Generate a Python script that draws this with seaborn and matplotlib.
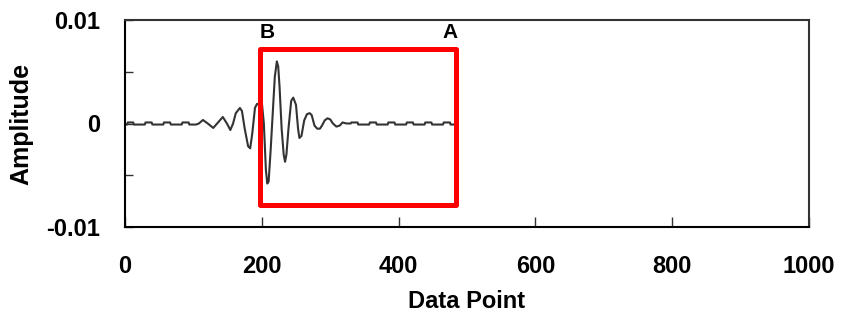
import matplotlib
matplotlib.use("Agg")
import matplotlib.pyplot as plt
from matplotlib.patches import Rectangle
import pandas as pd
import seaborn as sns

# Signal values (data point index, amplitude)
data_point = [0, 3, 4, 12, 13, 29, 30, 39, 40, 56, 57, 66, 67, 83, 84, 93, 94, 104,
              108, 114, 121, 129, 136, 143, 149, 154, 158, 162, 168, 171, 175, 180, 183,
              186, 190, 193, 196, 200, 203, 206, 208, 210, 213, 216, 219, 222, 224, 226,
              229, 232, 234, 236, 239, 243, 246, 250, 253, 255, 258, 262, 266, 270, 273,
              277, 281, 285, 288, 292, 296, 300, 304, 309, 314, 318, 324,
              330, 331, 340, 341, 357, 358, 367, 368, 384, 385, 394, 395, 411, 412,
              421, 422, 438, 439, 448, 449, 465, 466, 475, 476, 482]
amplitude = [-0.0001, -0.0001, 0.0001, 0.0001, -0.0001, -0.0001, 0.0001, 0.0001, -0.0001,
             -0.0001, 0.0001, 0.0001, -0.0001, -0.0001, 0.0001, 0.0001, -0.0001, -0.0001,
             0.0000, 0.00034, 0.0000, -0.00043, 0.0001, 0.00063, 0.0000, -0.00063, 0.0000,
             0.0010, 0.0015, 0.0012, -0.0005, -0.0022, -0.0024, -0.0010, 0.0015, 0.0019,
             0.0018, 0.0021, 0.0000, -0.0045, -0.0058, -0.0056, -0.0025, 0.0010, 0.0045,
             0.0060, 0.0055, 0.0035, -0.0005, -0.0030, -0.0037, -0.0030, -0.0005, 0.0022,
             0.0025, 0.0018, -0.0005, -0.0014, -0.0012, 0.0003, 0.0009, 0.0010, 0.0008,
             -0.0002, -0.0005, -0.0005, -0.0002, 0.0003, 0.0005, 0.0004, 0.0000, -0.0003,
             -0.0002, 0.0001, 0.0000,
             0.0000, 0.0001, 0.0001, -0.0001, -0.0001, 0.0001, 0.0001, -0.0001, -0.0001,
             0.0001, 0.0001, -0.0001, -0.0001, 0.0001, 0.0001, -0.0001, -0.0001, 0.0001,
             0.0001, -0.0001, -0.0001, 0.0001, 0.0001, -0.0001, -0.0001]

x_ticks = [0, 200, 400, 600, 800, 1000]
x_tick_labels = ["0", "200", "400", "600", "800", "1000"]
y_ticks = [-0.01, -0.005, 0, 0.005, 0.01]
y_tick_labels = ["-0.01", "", "0", "", "0.01"]

# Window annotation (B .. A)
window_start = 197
window_end = 484.6
window_low = -0.00783
window_high = 0.00715
label_y = 0.0088
label_b_x = 208
label_a_x = 475

df = pd.DataFrame({"Data Point": data_point, "Amplitude": amplitude})

sns.set_style("white")
plt.rcParams["font.family"] = ["Liberation Sans", "DejaVu Sans"]
plt.rcParams["text.color"] = "black"
plt.rcParams["axes.labelcolor"] = "black"

fig = plt.figure(figsize=(8.43, 3.21), dpi=100)
ax = fig.add_axes([125 / 843, 1 - 227 / 321, (809 - 125) / 843, (227 - 20) / 321])

sns.lineplot(data=df, x="Data Point", y="Amplitude", ax=ax, color="#333333",
             linewidth=1.5, sort=False, estimator=None)

ax.add_patch(Rectangle((window_start, window_low), window_end - window_start,
                       window_high - window_low, fill=False, edgecolor="#ff0000",
                       linewidth=3.6, joinstyle="round", zorder=3))
ax.text(label_b_x, label_y, "B", ha="center", va="center", fontsize=15,
        fontweight="bold", color="black")
ax.text(label_a_x, label_y, "A", ha="center", va="center", fontsize=15,
        fontweight="bold", color="black")

ax.set_xlim(0, 1000)
ax.set_ylim(-0.01, 0.01)
ax.set_xticks(x_ticks)
ax.set_xticklabels(x_tick_labels, fontsize=17, fontweight="bold")
ax.set_yticks(y_ticks)
ax.set_yticklabels(y_tick_labels, fontsize=17, fontweight="bold")
ax.tick_params(axis="x", bottom=True, direction="in", length=7, width=1, pad=20,
               colors="#333333", labelcolor="black")
ax.tick_params(axis="y", left=True, direction="in", length=6, width=1, pad=18,
               colors="#333333", labelcolor="black")
ax.set_xlabel("Data Point", fontsize=17, fontweight="bold", labelpad=9)
ax.set_ylabel("Amplitude", fontsize=18, fontweight="bold", labelpad=9)

for side in ["left", "right", "top", "bottom"]:
    ax.spines[side].set_visible(True)
    ax.spines[side].set_color("#333333")
    ax.spines[side].set_linewidth(1.5)
ax.spines["left"].set_color("black")
ax.spines["bottom"].set_color("black")

fig.savefig("out.png", dpi=100)
